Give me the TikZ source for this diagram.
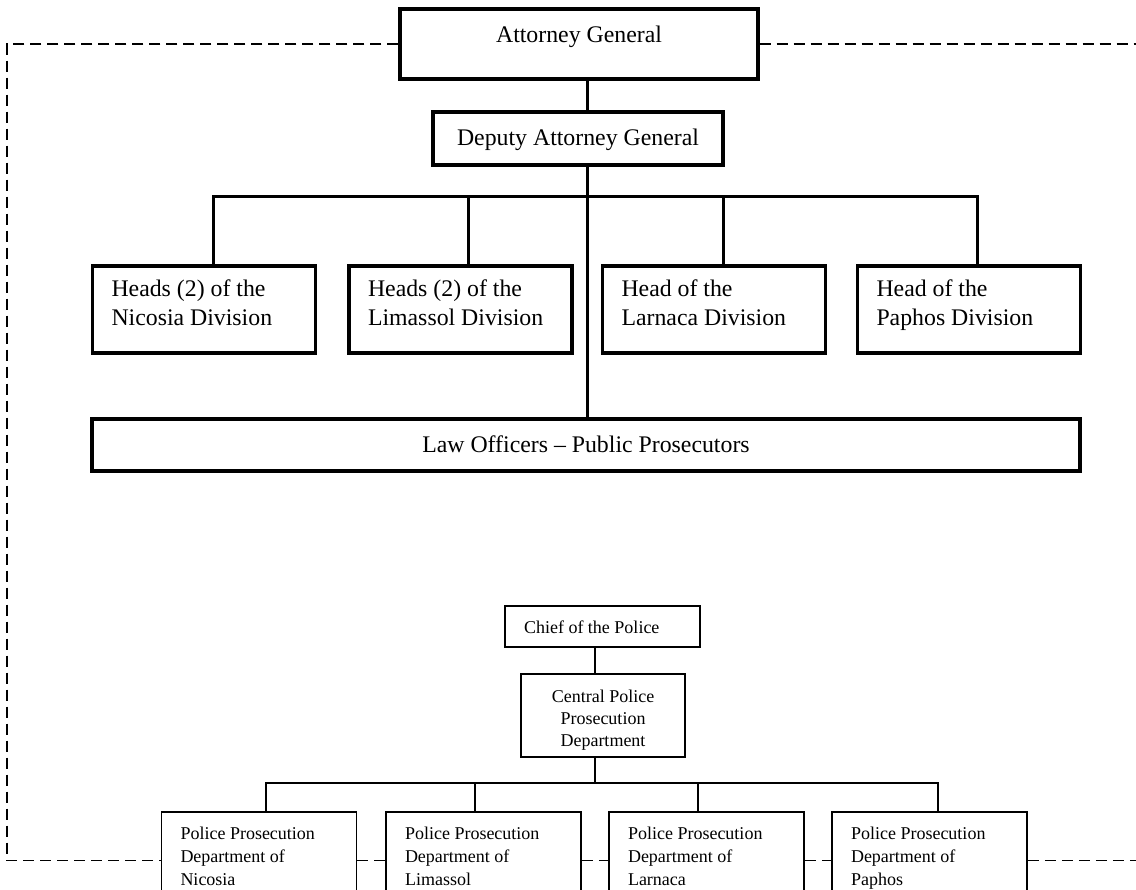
\documentclass[tikz,border=0pt]{standalone}
\usepackage{fontspec}
\setmainfont{Liberation Serif}
\newcommand{\mylboxtxt}[2]{\makebox[#1][l]{\hspace{19pt}\begin{tabular}[t]{@{}l@{}}#2\end{tabular}}}
\newcommand{\mycboxtxt}[2]{\makebox[#1][c]{\begin{tabular}[t]{@{}c@{}}#2\end{tabular}}}
\tikzset{
  topbox/.style={draw, line width=3.2pt, inner sep=0pt, font=\fontsize{23.8}{28.5}\selectfont},
  polbox/.style={draw, line width=1.8pt, inner sep=0pt, font=\fontsize{18}{23}\selectfont},
  topline/.style={line width=3pt},
  polline/.style={line width=1.8pt},
  dashline/.style={line width=1.8pt, dash pattern=on 11pt off 6pt},
}
\begin{document}
\begin{tikzpicture}[x=1pt, y=-1pt]
\useasboundingbox (0,0) rectangle (1136,890);
\clip (0,0) rectangle (1136,890);

% Attorney General's office
\node[topbox, minimum width=358pt, text height=34pt, text depth=36pt] (ag) at (579,44) {Attorney General};
\node[topbox, minimum width=290pt, text height=34pt, text depth=19pt] (dag) at (578,138.5) {Deputy Attorney General};
\node[topbox, text height=31pt, text depth=56pt] (nic) at (204,309.5) {\mylboxtxt{223pt}{Heads (2) of the\\Nicosia Division}};
\node[topbox, text height=31pt, text depth=56pt] (lim) at (460.5,309.5) {\mylboxtxt{223pt}{Heads (2) of the\\Limassol Division}};
\node[topbox, text height=31pt, text depth=56pt] (lar) at (714,309.5) {\mylboxtxt{223pt}{Head of the\\Larnaca Division}};
\node[topbox, text height=31pt, text depth=56pt] (pap) at (969,309.5) {\mylboxtxt{223pt}{Head of the\\Paphos Division}};
\node[topbox, minimum width=988pt, text height=34pt, text depth=18pt] (law) at (586,445) {Law Officers -- Public Prosecutors};

\coordinate (sp) at (587,0);
\draw[topline] (ag.south -| sp) -- (dag.north -| sp);
\draw[topline] (dag.south -| sp) -- (law.north -| sp);
\coordinate (b1) at (213,197);
\coordinate (b2) at (468,197);
\coordinate (b3) at (723,197);
\coordinate (b4) at (977,197);
\draw[topline] (nic.north -| b1) -- (b1) -- (b4) -- (pap.north -| b4);
\draw[topline] (b2) -- (lim.north -| b2);
\draw[topline] (b3) -- (lar.north -| b3);

% Police
\node[polbox, text height=27pt, text depth=14pt] (chief) at (602.5,626.5) {\mylboxtxt{195pt}{Chief of the Police}};
\node[polbox, font=\fontsize{18}{22}\selectfont, text height=28pt, text depth=55pt] (cppd) at (603,715.5) {\mycboxtxt{164pt}{Central Police\\Prosecution\\Department}};
\node[polbox, text height=27pt, text depth=70pt] (pn) at (259,860.5) {\mylboxtxt{195pt}{Police Prosecution\\Department of\\Nicosia}};
\node[polbox, text height=27pt, text depth=70pt] (pl) at (483.5,860.5) {\mylboxtxt{195pt}{Police Prosecution\\Department of\\Limassol}};
\node[polbox, text height=27pt, text depth=70pt] (pla) at (706.5,860.5) {\mylboxtxt{195pt}{Police Prosecution\\Department of\\Larnaca}};
\node[polbox, text height=27pt, text depth=70pt] (pp) at (929.5,860.5) {\mylboxtxt{195pt}{Police Prosecution\\Department of\\Paphos}};

\coordinate (pc) at (595,0);
\coordinate (p1) at (266,783);
\coordinate (p2) at (475,783);
\coordinate (p3) at (698,783);
\coordinate (p4) at (938,783);
\draw[polline] (chief.south -| pc) -- (cppd.north -| pc);
\draw[polline] (cppd.south -| pc) -- (pc |- p1);
\draw[polline] (pn.north -| p1) -- (p1) -- (p4) -- (pp.north -| p4);
\draw[polline] (p2) -- (pl.north -| p2);
\draw[polline] (p3) -- (pla.north -| p3);

% Dashed links
\coordinate (tl) at (7,44);
\coordinate (bl) at (7,860.5);
\coordinate (tr) at (1140,44);
\coordinate (br) at (1140,860.5);
\draw[dashline] (ag.west) -- (tl) -- (bl) -- (pn.west);
\draw[dashline] (pn.east) -- (pl.west);
\draw[dashline] (pl.east) -- (pla.west);
\draw[dashline] (pla.east) -- (pp.west);
\draw[dashline] (ag.east) -- (tr);
\draw[dashline] (pp.east) -- (br);
\end{tikzpicture}
\end{document}
